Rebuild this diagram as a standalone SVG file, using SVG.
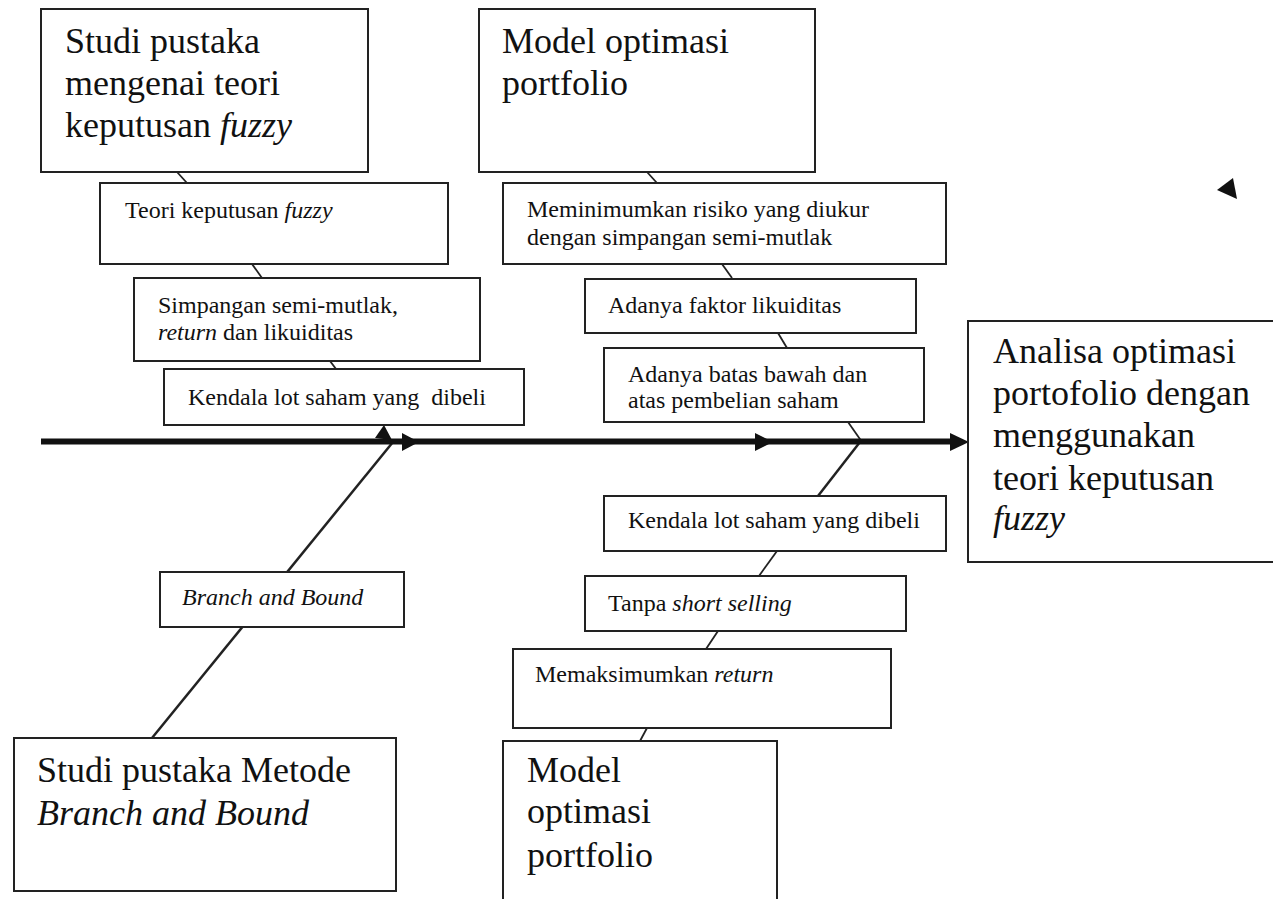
<svg xmlns="http://www.w3.org/2000/svg" width="1273" height="899" viewBox="0 0 1273 899">
<style>
.box{fill:#fff;stroke:#222;stroke-width:2}
.big{font-family:"Liberation Serif","Times New Roman",serif;font-size:36px;fill:#111}
.sm{font-family:"Liberation Serif","Times New Roman",serif;font-size:24px;fill:#111}
.it{font-style:italic}
.ln{stroke:#222;stroke-width:1.8;fill:none}
.dg{stroke:#222;stroke-width:2.5;fill:none}
.ah{fill:#111}
</style>
<rect width="1273" height="899" fill="#fff"/>
<g id="connectors">
  <line class="dg" x1="393" y1="442" x2="152" y2="738"/>
  <line class="ln" x1="177" y1="172" x2="187" y2="183"/>
  <line class="ln" x1="252" y1="264" x2="262" y2="278"/>
  <line class="ln" x1="330" y1="361" x2="336" y2="369"/>
  <line class="ln" x1="647" y1="172" x2="657" y2="183"/>
  <line class="ln" x1="722" y1="264" x2="732" y2="278"/>
  <line class="ln" x1="778" y1="333" x2="787" y2="348"/>
  <line class="ln" x1="848" y1="422" x2="862" y2="442"/>
  <line class="dg" x1="860" y1="442" x2="818" y2="496"/>
  <line class="ln" x1="777" y1="551" x2="759" y2="576"/>
  <line class="ln" x1="718" y1="631" x2="706" y2="649"/>
  <line class="ln" x1="647" y1="728" x2="640" y2="741"/>
  <line x1="41" y1="441.5" x2="955" y2="441.5" stroke="#111" stroke-width="6"/>
  <polygon class="ah" points="402,433 419,442 402,451"/>
  <polygon class="ah" points="755,433 773,442 755,451"/>
  <polygon class="ah" points="950,433 969,442 950,451"/>
  <polygon class="ah" points="384,425 375,438 392,440"/>
  <polygon class="ah" points="1217,190 1233,178 1237,199"/>
</g>
<g id="n-studi-fuzzy">
  <rect class="box" x="41" y="9" width="327" height="163"/>
  <text class="big" x="65" y="53">Studi pustaka</text>
  <text class="big" x="65" y="95">mengenai teori</text>
  <text class="big" x="65" y="137">keputusan <tspan class="it">fuzzy</tspan></text>
</g>
<g id="n-teori-fuzzy">
  <rect class="box" x="100" y="183" width="348" height="81"/>
  <text class="sm" x="125" y="218">Teori keputusan <tspan class="it">fuzzy</tspan></text>
</g>
<g id="n-simpangan">
  <rect class="box" x="134" y="278" width="346" height="83"/>
  <text class="sm" x="158" y="313">Simpangan semi-mutlak,</text>
  <text class="sm" x="158" y="340"><tspan class="it">return</tspan> dan likuiditas</text>
</g>
<g id="n-kendala-top">
  <rect class="box" x="164" y="369" width="360" height="56"/>
  <text class="sm" x="188" y="405" style="white-space:pre">Kendala lot saham yang  dibeli</text>
</g>
<g id="n-model-top">
  <rect class="box" x="479" y="9" width="336" height="163"/>
  <text class="big" x="502" y="53">Model optimasi</text>
  <text class="big" x="502" y="95">portfolio</text>
</g>
<g id="n-minimum">
  <rect class="box" x="503" y="183" width="443" height="81"/>
  <text class="sm" x="527" y="217">Meminimumkan risiko yang diukur</text>
  <text class="sm" x="527" y="245">dengan simpangan semi-mutlak</text>
</g>
<g id="n-likuiditas">
  <rect class="box" x="585" y="279" width="331" height="54"/>
  <text class="sm" x="608" y="313">Adanya faktor likuiditas</text>
</g>
<g id="n-batas">
  <rect class="box" x="604" y="348" width="320" height="74"/>
  <text class="sm" x="628" y="382">Adanya batas bawah dan</text>
  <text class="sm" x="628" y="408">atas pembelian saham</text>
</g>
<g id="n-analisa">
  <rect class="box" x="968" y="321" width="320" height="241"/>
  <text class="big" x="993" y="363">Analisa optimasi</text>
  <text class="big" x="993" y="405">portofolio dengan</text>
  <text class="big" x="993" y="447">menggunakan</text>
  <text class="big" x="993" y="490">teori keputusan</text>
  <text class="big it" x="993" y="530">fuzzy</text>
</g>
<g id="n-bnb">
  <rect class="box" x="160" y="572" width="244" height="55"/>
  <text class="sm it" x="182" y="605">Branch and Bound</text>
</g>
<g id="n-studi-bnb">
  <rect class="box" x="14" y="738" width="382" height="153"/>
  <text class="big" x="37" y="782">Studi pustaka Metode</text>
  <text class="big it" x="37" y="825">Branch and Bound</text>
</g>
<g id="n-kendala-bottom">
  <rect class="box" x="604" y="496" width="342" height="55"/>
  <text class="sm" x="628" y="528">Kendala lot saham yang dibeli</text>
</g>
<g id="n-short">
  <rect class="box" x="585" y="576" width="321" height="55"/>
  <text class="sm" x="608" y="611">Tanpa <tspan class="it">short selling</tspan></text>
</g>
<g id="n-return">
  <rect class="box" x="513" y="649" width="378" height="79"/>
  <text class="sm" x="535" y="682">Memaksimumkan <tspan class="it">return</tspan></text>
</g>
<g id="n-model-bottom">
  <rect class="box" x="503" y="741" width="274" height="170"/>
  <text class="big" x="527" y="782">Model</text>
  <text class="big" x="527" y="823">optimasi</text>
  <text class="big" x="527" y="867">portfolio</text>
</g>
</svg>
